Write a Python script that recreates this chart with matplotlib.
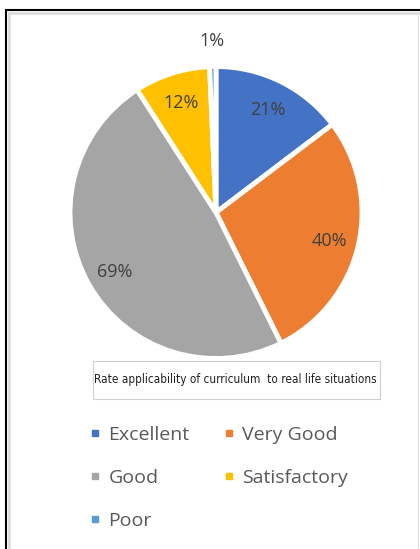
import matplotlib
matplotlib.use('Agg')
import matplotlib.pyplot as plt
from matplotlib.lines import Line2D
from matplotlib.patches import Rectangle
import numpy as np

# data
categories = ['Excellent', 'Very Good', 'Good', 'Satisfactory', 'Poor']
values = [21, 40, 69, 12, 1]
colors = ['#4472C4', '#ED7D31', '#A5A5A5', '#FFC000', '#5B9BD5']
title = 'Rate applicability of curriculum  to real life situations'

W, H = 420, 549
fig = plt.figure(figsize=(W / 100, H / 100), dpi=100)

# pie axes, in pixels: centre (216, 212), radius 146
cx, cy, r = 216, 212.5, 146
ax = fig.add_axes([(cx - r) / W, 1 - (cy + r) / H, 2 * r / W, 2 * r / H])
wedges, _ = ax.pie(values, colors=colors, startangle=90, counterclock=False,
                   wedgeprops=dict(edgecolor='white', linewidth=3.5))
ax.set_xlim(-1, 1)
ax.set_ylim(-1, 1)
ax.set_aspect('equal')

for w, v in zip(wedges, values):
    mid = np.deg2rad((w.theta1 + w.theta2) / 2)
    d = 1.19 if v < 5 else 0.8
    ax.text(d * np.cos(mid), d * np.sin(mid), f'{v}%', ha='center',
            va='center_baseline', fontsize=13, color='#404040', family='Open Sans')

# boxed title under the pie
fig.add_artist(Rectangle((93 / W, 1 - 399 / H), 287 / W, 38 / H,
                         transform=fig.transFigure, facecolor='white',
                         edgecolor='#cfcfcf', linewidth=0.8))
t = fig.text(235 / W, 1 - 380 / H, title, ha='center', va='center', fontsize=10,
             family='DejaVu Sans', fontstretch='condensed', color='#202020')
fig.canvas.draw()
tw = t.get_window_extent().width
t.set_fontsize(10 * 280 / tw)

# legend, row-wise order
order = [0, 2, 4, 1, 3]
handles = [Line2D([], [], marker='s', linestyle='none', markersize=4.5,
                  color=colors[i]) for i in order]
fig.legend(handles, [categories[i] for i in order], ncol=2,
           loc='upper left', bbox_to_anchor=(72 / W, 1 - 408 / H),
           frameon=False, handlelength=0.6, handletextpad=0.37,
           labelspacing=1.3, columnspacing=1.75,
           prop=dict(family='Open Sans', size=14), labelcolor='#595959')

# outer frame
fig.add_artist(Line2D([6 / W, 6 / W], [0, 1 - 10 / H], color='black', lw=1.5,
                      transform=fig.transFigure))
fig.add_artist(Line2D([6 / W, 1], [1 - 10 / H, 1 - 10 / H], color='black', lw=1.5,
                      transform=fig.transFigure))
fig.add_artist(Line2D([9 / W, 9 / W], [0, 1 - 13 / H], color='#dcdcdc', lw=2,
                      transform=fig.transFigure))
fig.add_artist(Line2D([9 / W, 1], [1 - 13 / H, 1 - 13 / H], color='#dcdcdc', lw=2,
                      transform=fig.transFigure))
fig.add_artist(Line2D([418 / W, 418 / W], [0, 1 - 13 / H], color='#e4e4e4', lw=1,
                      transform=fig.transFigure))

fig.savefig('out.png', dpi=100)
